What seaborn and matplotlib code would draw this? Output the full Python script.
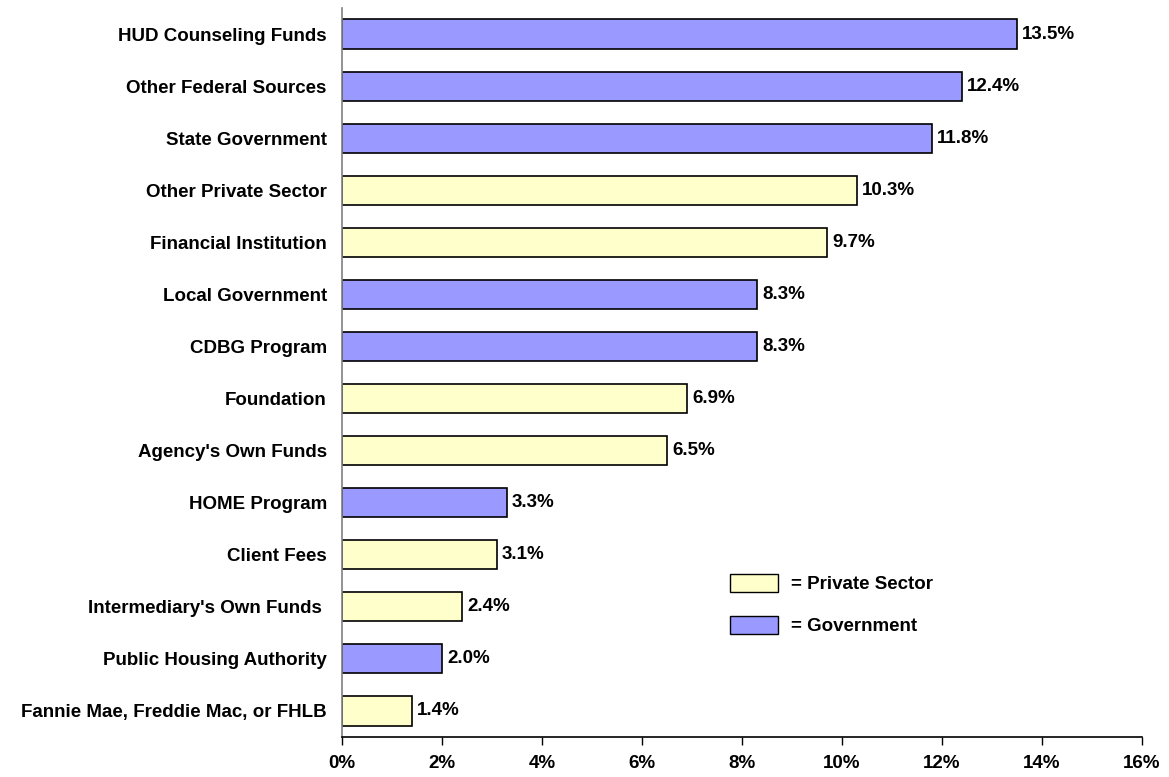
import pandas as pd
import seaborn as sns
import matplotlib.pyplot as plt
from matplotlib.patches import Patch

sources = ['HUD Counseling Funds', 'Other Federal Sources', 'State Government',
           'Other Private Sector', 'Financial Institution', 'Local Government',
           'CDBG Program', 'Foundation', "Agency's Own Funds", 'HOME Program',
           'Client Fees', "Intermediary's Own Funds ", 'Public Housing Authority',
           'Fannie Mae, Freddie Mac, or FHLB']
shares = [13.5, 12.4, 11.8, 10.3, 9.7, 8.3, 8.3, 6.9, 6.5, 3.3, 3.1, 2.4, 2.0, 1.4]
sector = ['Government', 'Government', 'Government', 'Private Sector', 'Private Sector',
          'Government', 'Government', 'Private Sector', 'Private Sector', 'Government',
          'Private Sector', 'Private Sector', 'Government', 'Private Sector']
x_ticks = [0, 2, 4, 6, 8, 10, 12, 14, 16]

colors = {'Private Sector': '#FFFFCC', 'Government': '#9999FF'}

df = pd.DataFrame({'source': sources, 'share': shares, 'sector': sector})

sns.set_style('white')
plt.rcParams['font.family'] = 'sans-serif'
plt.rcParams['font.sans-serif'] = ['Liberation Sans', 'DejaVu Sans']
plt.rcParams['font.weight'] = 'bold'
plt.rcParams['text.color'] = 'black'
plt.rcParams['xtick.color'] = 'black'
plt.rcParams['ytick.color'] = 'black'

fs = 13.5

fig = plt.figure(figsize=(11.69, 7.77), dpi=100)
ax = fig.add_axes([0.2926, 0.0515, 0.6843, 0.9382])

sns.barplot(data=df, x='share', y='source', hue='sector', palette=colors,
            saturation=1, dodge=False, width=0.56, edgecolor='black', linewidth=1.2,
            legend=False, ax=ax)

for c in ax.containers:
    labels = [f'{w:.1f}%' if w > 0 else '' for w in c.datavalues]
    ax.bar_label(c, labels=labels, padding=3.5, fontsize=fs, fontweight='bold', color='black')

ax.set_xlim(0, 16)
ax.set_ylim(13.5, -0.5)
ax.set_xticks(x_ticks)
ax.set_xticklabels([f'{t}%' for t in x_ticks], fontsize=fs, fontweight='bold')
ax.set_yticklabels(sources, fontsize=fs, fontweight='bold')
ax.set_xlabel('')
ax.set_ylabel('')
ax.tick_params(axis='x', direction='out', length=6, width=1, pad=7, bottom=True, color='black')
ax.tick_params(axis='y', length=0, pad=11)

for s in ['top', 'right']:
    ax.spines[s].set_visible(False)
ax.spines['left'].set_color('#808080')
ax.spines['left'].set_linewidth(1.2)
ax.spines['bottom'].set_color('black')
ax.spines['bottom'].set_linewidth(1.2)

handles = [Patch(facecolor=colors['Private Sector'], edgecolor='black', label='= Private Sector'),
           Patch(facecolor=colors['Government'], edgecolor='black', label='= Government')]
ax.legend(handles=handles, loc='upper left', bbox_to_anchor=(0.4638, 0.247), frameon=False,
          handlelength=2.56, handleheight=1.1, labelspacing=1.2, handletextpad=0.7,
          prop={'size': fs, 'weight': 'bold'})

fig.savefig('out.png', dpi=100)
